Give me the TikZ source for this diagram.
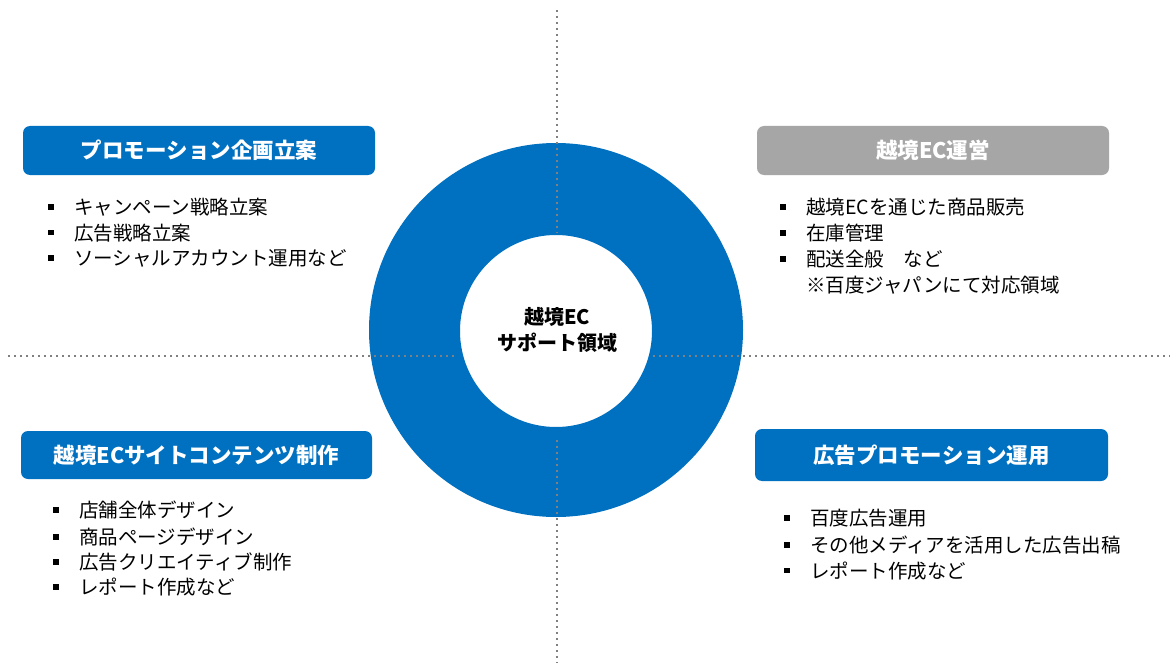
\documentclass[tikz,border=0pt]{standalone}
\usepackage{fontspec}
\newfontfamily\jpfont{Noto Sans CJK JP}
\definecolor{ringblue}{HTML}{0070C0}
\definecolor{boxgray}{HTML}{A6A6A6}
\definecolor{dotgray}{HTML}{808080}
\newcommand{\sqbul}{\makebox[26pt][l]{\raisebox{4.6pt}{\rule{5.5pt}{5.5pt}}}}
\begin{document}
\begin{tikzpicture}[x=1pt,y=-1pt,
  titlebox/.style={rounded corners=7pt,minimum width=352pt,minimum height=49pt,inner sep=0pt,text=white,font=\jpfont\bfseries\fontsize{21.5pt}{26pt}\selectfont},
  item/.style={anchor=base west,inner sep=0pt,font=\jpfont\fontsize{19.5pt}{25pt}\selectfont},
  sep/.style={dotgray,line width=2pt,dash pattern=on 2pt off 4pt}]
\fill[white] (0,0) rectangle (1170,666);
\useasboundingbox (0,0) rectangle (1170,666);

% ring in the middle
\fill[ringblue,even odd rule] (556,330) circle (187) (556,331) circle (96);
\node[font=\jpfont\bfseries\fontsize{20pt}{26pt}\selectfont,align=center] (core) at (557,330) {越境EC\\サポート領域};

\draw[sep] (557,10) -- (557,233);
\draw[sep] (557,440) -- (557,663);
\draw[sep] (8,356) -- (457,356);
\draw[sep] (653,356) -- (1170,356);

% titles
\node[titlebox,fill=ringblue] (plan) at (199,150.5) {プロモーション企画立案};
\node[titlebox,fill=boxgray] (ops) at (933,150.5) {越境EC運営};
\node[titlebox,fill=ringblue,minimum width=351pt,minimum height=48pt] (site) at (196.5,455) {越境ECサイトコンテンツ制作};
\node[titlebox,fill=ringblue,minimum width=353pt,minimum height=52pt] (ads) at (931.5,455) {広告プロモーション運用};

% lists
\node[item] (plan1) at (48,214.5) {\sqbul キャンペーン戦略立案};
\node[item] (plan2) at (48,240) {\sqbul 広告戦略立案};
\node[item] (plan3) at (48,265.5) {\sqbul ソーシャルアカウント運用など};

\node[item] (ops1) at (780,214.5) {\sqbul 越境ECを通じた商品販売};
\node[item] (ops2) at (780,240.5) {\sqbul 在庫管理};
\node[item] (ops3) at (780,266.5) {\sqbul 配送全般　など};
\node[item] (ops4) at (806,292.5) {※百度ジャパンにて対応領域};

\node[item] (site1) at (53,517.5) {\sqbul 店舗全体デザイン};
\node[item] (site2) at (53,544.5) {\sqbul 商品ページデザイン};
\node[item] (site3) at (53,569.5) {\sqbul 広告クリエイティブ制作};
\node[item] (site4) at (53,594.5) {\sqbul レポート作成など};

\node[item] (ads1) at (784,525.5) {\sqbul 百度広告運用};
\node[item] (ads2) at (784,552.5) {\sqbul その他メディアを活用した広告出稿};
\node[item] (ads3) at (784,578) {\sqbul レポート作成など};
\end{tikzpicture}
\end{document}
